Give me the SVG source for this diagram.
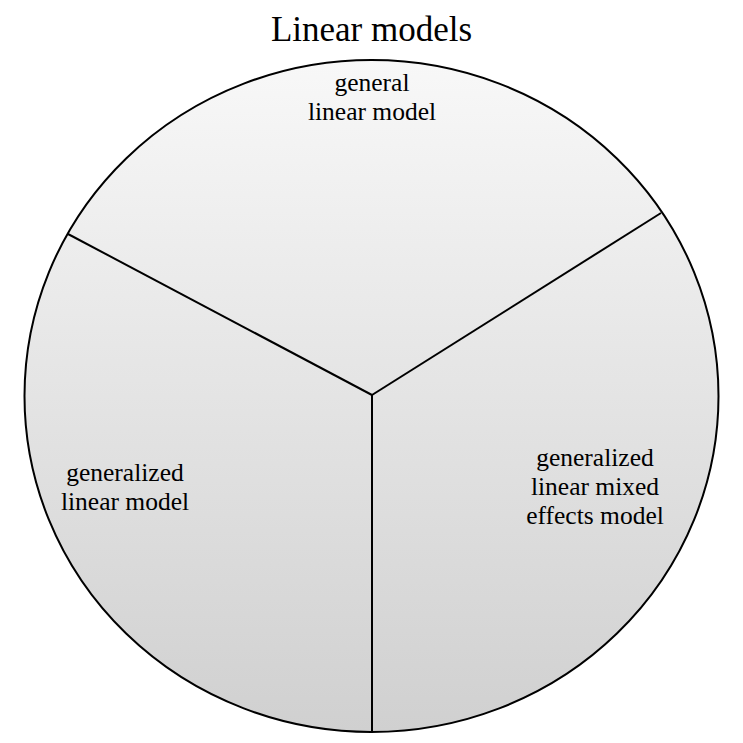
<svg xmlns="http://www.w3.org/2000/svg" width="743" height="743" viewBox="0 0 743 743">
<style>
  text { font-family: "Liberation Serif", "Times New Roman", serif; fill: #000; text-anchor: middle; }
  .title { font-size: 35px; }
  .label { font-size: 25.5px; }
  .edge { stroke: #000; stroke-width: 2; fill: none; }
</style>
<defs>
  <linearGradient id="bg" x1="0" y1="0" x2="0" y2="1">
    <stop offset="0" stop-color="#f8f8f8"/>
    <stop offset="1" stop-color="#d0d0d0"/>
  </linearGradient>
</defs>
<rect width="743" height="743" fill="#fff"/>
<text class="title" x="371.5" y="41">Linear models</text>
<g id="circle">
  <ellipse cx="371.5" cy="396" rx="347" ry="336" fill="url(#bg)" stroke="#000" stroke-width="2"/>
</g>
<g id="connectors">
  <line class="edge" x1="372" y1="395" x2="68" y2="234"/>
  <line class="edge" x1="372" y1="395" x2="661" y2="213"/>
  <line class="edge" x1="372" y1="395" x2="372" y2="732"/>
</g>
<g id="general-linear-model">
  <text class="label" x="372" y="91">general</text>
  <text class="label" x="372" y="120">linear model</text>
</g>
<g id="generalized-linear-model">
  <text class="label" x="125" y="481">generalized</text>
  <text class="label" x="125" y="510">linear model</text>
</g>
<g id="generalized-linear-mixed-effects-model">
  <text class="label" x="595" y="466">generalized</text>
  <text class="label" x="595" y="495">linear mixed</text>
  <text class="label" x="595" y="524">effects model</text>
</g>
</svg>
